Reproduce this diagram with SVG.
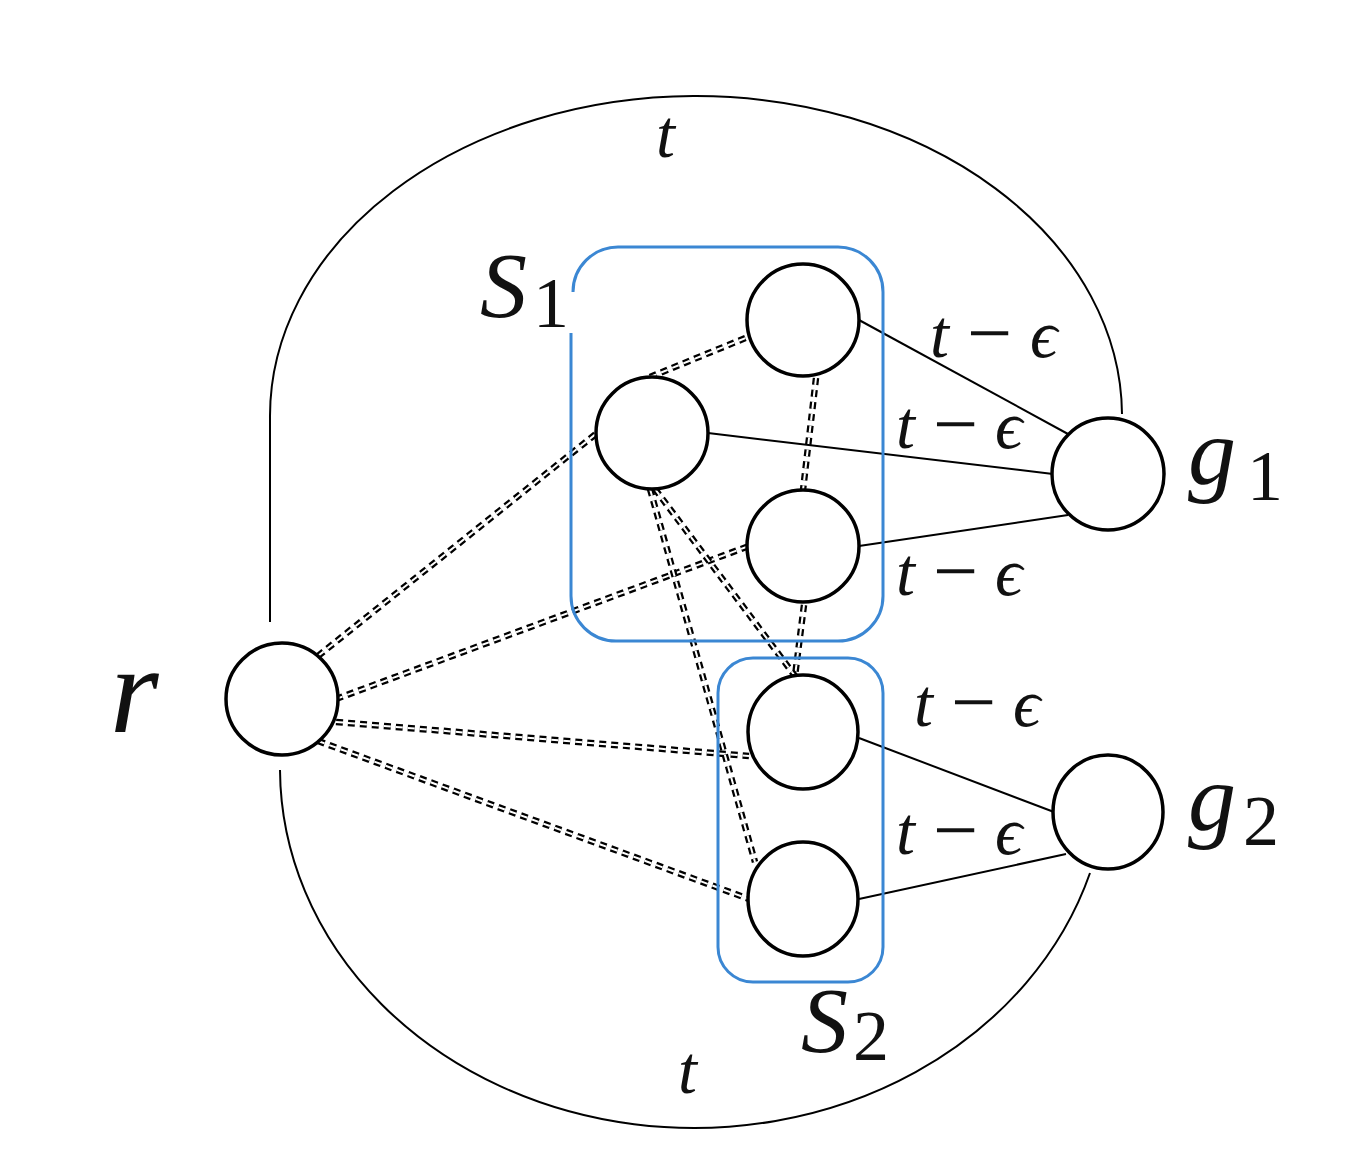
<svg xmlns="http://www.w3.org/2000/svg" xmlns:xlink="http://www.w3.org/1999/xlink" width="1359" height="1157" viewBox="0 0 1359 1157">
<style>
.node{fill:#fff;stroke:#000;stroke-width:3.5}
.box{fill:none;stroke:#3b87d3;stroke-width:3}
.edge{fill:none;stroke:#000;stroke-width:2}
.ddo{stroke:#000;stroke-width:6.5;stroke-dasharray:7 5;fill:none}
.ddi{stroke:#fff;stroke-width:2;stroke-dasharray:7 5;fill:none}
.m{font-family:"Liberation Serif","DejaVu Serif",serif;font-style:italic;fill:#111}
.n{font-family:"Liberation Serif","DejaVu Serif",serif;fill:#111}
.mi{font-family:"Liberation Serif","DejaVu Serif",serif;fill:#111;font-size:80px}
</style>
<defs>
<line id="d1" x1="318" y1="656" x2="597" y2="433"/>
<line id="d2" x1="336" y1="699" x2="749" y2="546"/>
<line id="d3" x1="336" y1="722" x2="749" y2="756"/>
<line id="d4" x1="318" y1="741" x2="749" y2="899"/>
<line id="d5" x1="650" y1="377" x2="748" y2="337"/>
<line id="d6" x1="816" y1="378" x2="803" y2="490"/>
<line id="d7" x1="804" y1="605" x2="795" y2="676"/>
<line id="d8" x1="655" y1="489" x2="795" y2="676"/>
<line id="d9" x1="650" y1="489" x2="755" y2="862"/>
</defs>
<rect width="1359" height="1157" fill="#fff"/>
<g id="connectors">
<path class="edge" d="M 270 622 V 418 A 426 320 0 0 1 1122 414"/>
<path class="edge" d="M 280 770 A 414 360 0 0 0 1090 873"/>
<use xlink:href="#d1" class="ddo"/><use xlink:href="#d1" class="ddi"/>
<use xlink:href="#d2" class="ddo"/><use xlink:href="#d2" class="ddi"/>
<use xlink:href="#d3" class="ddo"/><use xlink:href="#d3" class="ddi"/>
<use xlink:href="#d4" class="ddo"/><use xlink:href="#d4" class="ddi"/>
<use xlink:href="#d5" class="ddo"/><use xlink:href="#d5" class="ddi"/>
<use xlink:href="#d6" class="ddo"/><use xlink:href="#d6" class="ddi"/>
<use xlink:href="#d7" class="ddo"/><use xlink:href="#d7" class="ddi"/>
<use xlink:href="#d8" class="ddo"/><use xlink:href="#d8" class="ddi"/>
<use xlink:href="#d9" class="ddo"/><use xlink:href="#d9" class="ddi"/>
<line class="edge" x1="859" y1="320" x2="1068" y2="434"/>
<line class="edge" x1="708" y1="433" x2="1053" y2="474"/>
<line class="edge" x1="859" y1="546" x2="1068" y2="515"/>
<line class="edge" x1="859" y1="738" x2="1054" y2="812"/>
<line class="edge" x1="859" y1="899" x2="1066" y2="854"/>
</g>
<g id="S1">
<path class="box" d="M 571 333 V 596 A 45 45 0 0 0 616 641 H 838 A 45 45 0 0 0 883 596 V 292 A 45 45 0 0 0 838 247 H 618 A 45 45 0 0 0 573 292"/>
<text class="m" x="480" y="317" font-size="94">S</text><text class="n" x="533" y="327" font-size="72">1</text>
</g>
<g id="S2">
<rect class="box" x="718" y="658" width="165" height="324" rx="35" ry="35"/>
<text class="m" x="801" y="1052" font-size="94">S</text><text class="n" x="853" y="1060" font-size="72">2</text>
</g>
<g id="r"><circle class="node" cx="282" cy="699" r="56"/><text class="m" x="110" y="732" font-size="125">r</text></g>
<g id="a"><circle class="node" cx="803" cy="320" r="56"/></g>
<g id="b"><circle class="node" cx="652" cy="433" r="56"/></g>
<g id="c"><circle class="node" cx="803" cy="546" r="56"/></g>
<g id="d"><ellipse class="node" cx="803" cy="732" rx="55" ry="57"/></g>
<g id="e"><ellipse class="node" cx="803" cy="899" rx="55" ry="57"/></g>
<g id="g1"><circle class="node" cx="1108" cy="474" r="56"/><text class="m" x="1188" y="484" font-size="96">g</text><text class="n" x="1247" y="500" font-size="72">1</text></g>
<g id="g2"><ellipse class="node" cx="1108" cy="812" rx="55" ry="57"/><text class="m" x="1188" y="830" font-size="96">g</text><text class="n" x="1243" y="845" font-size="72">2</text></g>
<g id="labels">
<text class="m" x="656" y="157" font-size="68">t</text>
<text class="m" x="678" y="1093" font-size="68">t</text>
<text font-size="68"><tspan class="m" x="930" y="357">t</tspan><tspan class="mi" x="967" y="360">−</tspan><tspan class="m" x="1030" y="357">ϵ</tspan></text>
<text font-size="68"><tspan class="m" x="896" y="448">t</tspan><tspan class="mi" x="933" y="451">−</tspan><tspan class="m" x="995" y="448">ϵ</tspan></text>
<text font-size="68"><tspan class="m" x="896" y="595">t</tspan><tspan class="mi" x="933" y="598">−</tspan><tspan class="m" x="995" y="595">ϵ</tspan></text>
<text font-size="68"><tspan class="m" x="914" y="726">t</tspan><tspan class="mi" x="951" y="729">−</tspan><tspan class="m" x="1013" y="726">ϵ</tspan></text>
<text font-size="68"><tspan class="m" x="896" y="854">t</tspan><tspan class="mi" x="933" y="857">−</tspan><tspan class="m" x="995" y="854">ϵ</tspan></text>
</g>
</svg>
